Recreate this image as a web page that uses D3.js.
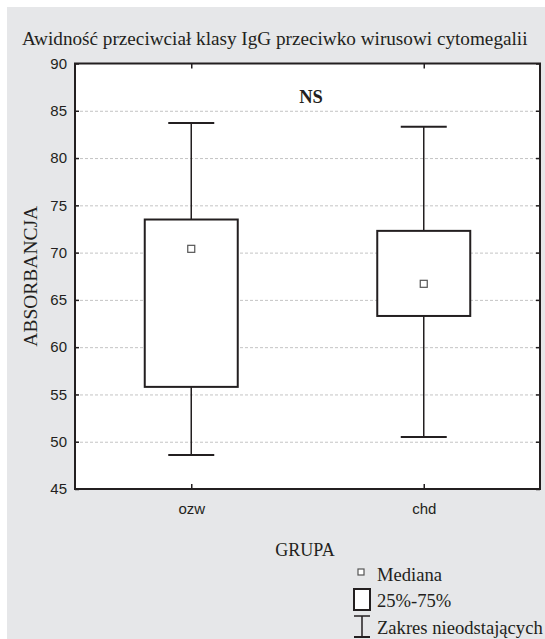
<!DOCTYPE html>
<html>
<head>
<meta charset="utf-8">
<script src="https://cdn.jsdelivr.net/npm/d3@7"></script>
<style>
  body { margin: 0; background: #fff; }
  #chart { width: 545px; height: 639px; }
  .serif { font-family: "Liberation Serif", "Times New Roman", serif; fill: #231f20; }
  .sans { font-family: "Liberation Sans", Arial, sans-serif; fill: #231f20; }
</style>
</head>
<body>
<div id="chart"></div>
<script>
// Data
var groups = ["ozw", "chd"];
var whiskerMax = [83.7, 83.3];
var q3 = [73.5, 72.3];
var medians = [70.4, 66.7];
var q1 = [55.8, 63.3];
var whiskerMin = [48.6, 50.5];
var yTicks = [45, 50, 55, 60, 65, 70, 75, 80, 85, 90];

var width = 545, height = 639;
var ink = "#231f20";

var svg = d3.select("#chart")
    .append("svg")
    .attr("width", width)
    .attr("height", height);

// page background (white strip on top/left, gray panel)
svg.append("rect").attr("x", 0).attr("y", 0).attr("width", width).attr("height", height).attr("fill", "#fff");
svg.append("rect").attr("x", 7).attr("y", 7).attr("width", width - 7).attr("height", height - 7).attr("fill", "#e6e7e9");

// plot box
var plot = { left: 75, right: 540, top: 63.5, bottom: 489 };

var y = d3.scaleLinear().domain([45, 90]).range([plot.bottom, plot.top]);
var x = d3.scalePoint().domain(groups).range([plot.left, plot.right]).padding(0.5);

svg.append("rect")
    .attr("x", plot.left).attr("y", plot.top)
    .attr("width", plot.right - plot.left).attr("height", plot.bottom - plot.top)
    .attr("fill", "#fff");

// Gridlines
svg.append("g")
    .attr("transform", "translate(" + plot.left + ",0)")
    .call(d3.axisLeft(y).tickValues(yTicks.slice(1, -1)).tickSize(-(plot.right - plot.left)).tickFormat(""))
    .call(function(g) {
        g.select(".domain").remove();
        g.selectAll("line").attr("stroke", "#c4c4c4").attr("stroke-dasharray", "3,2");
    });

// Y axis left with ticks inside
svg.append("g")
    .attr("transform", "translate(" + plot.left + ",0)")
    .call(d3.axisLeft(y).tickValues(yTicks).tickSizeInner(-4).tickSizeOuter(0).tickPadding(8))
    .call(function(g) {
        g.select(".domain").remove();
        g.selectAll("line").attr("stroke", ink).attr("stroke-width", 1.5);
        g.selectAll("text").attr("class", "sans").style("font-size", "15px").attr("font-family", null);
    });

// Y axis right ticks inside
svg.append("g")
    .attr("transform", "translate(" + plot.right + ",0)")
    .call(d3.axisRight(y).tickValues(yTicks).tickSizeInner(-4).tickSizeOuter(0).tickFormat(""))
    .call(function(g) {
        g.select(".domain").remove();
        g.selectAll("line").attr("stroke", ink).attr("stroke-width", 1.5);
    });

// X axis bottom
svg.append("g")
    .attr("transform", "translate(0," + plot.bottom + ")")
    .call(d3.axisBottom(x).tickSizeInner(-5).tickSizeOuter(0).tickPadding(14))
    .call(function(g) {
        g.select(".domain").remove();
        g.selectAll("line").attr("stroke", ink).attr("stroke-width", 1.5);
        g.selectAll("text").attr("class", "sans").style("font-size", "15px").attr("font-family", null);
    });

// X axis top
svg.append("g")
    .attr("transform", "translate(0," + plot.top + ")")
    .call(d3.axisTop(x).tickSizeInner(-5).tickSizeOuter(0).tickFormat(""))
    .call(function(g) {
        g.select(".domain").remove();
        g.selectAll("line").attr("stroke", ink).attr("stroke-width", 1.5);
    });

// Frame
svg.append("rect")
    .attr("x", plot.left).attr("y", plot.top)
    .attr("width", plot.right - plot.left).attr("height", plot.bottom - plot.top)
    .attr("fill", "none").attr("stroke", ink).attr("stroke-width", 2);

// Boxes
var boxW = 93, capW = 46;
var boxes = svg.append("g").selectAll("g")
    .data(groups)
    .enter().append("g");

boxes.append("line")
    .attr("x1", function(d) { return x(d); })
    .attr("x2", function(d) { return x(d); })
    .attr("y1", function(d, i) { return y(whiskerMax[i]); })
    .attr("y2", function(d, i) { return y(whiskerMin[i]); })
    .attr("stroke", ink).attr("stroke-width", 1.5);

boxes.append("line")
    .attr("x1", function(d) { return x(d) - capW / 2; })
    .attr("x2", function(d) { return x(d) + capW / 2; })
    .attr("y1", function(d, i) { return y(whiskerMax[i]); })
    .attr("y2", function(d, i) { return y(whiskerMax[i]); })
    .attr("stroke", ink).attr("stroke-width", 2);

boxes.append("line")
    .attr("x1", function(d) { return x(d) - capW / 2; })
    .attr("x2", function(d) { return x(d) + capW / 2; })
    .attr("y1", function(d, i) { return y(whiskerMin[i]); })
    .attr("y2", function(d, i) { return y(whiskerMin[i]); })
    .attr("stroke", ink).attr("stroke-width", 2);

boxes.append("rect")
    .attr("x", function(d) { return x(d) - boxW / 2; })
    .attr("y", function(d, i) { return y(q3[i]); })
    .attr("width", boxW)
    .attr("height", function(d, i) { return y(q1[i]) - y(q3[i]); })
    .attr("fill", "#fff").attr("stroke", ink).attr("stroke-width", 2);

boxes.append("rect")
    .attr("x", function(d) { return x(d) - 3.5; })
    .attr("y", function(d, i) { return y(medians[i]) - 3.5; })
    .attr("width", 7).attr("height", 7)
    .attr("fill", "#fff").attr("stroke", "#555").attr("stroke-width", 1.2);

// Texts
svg.append("text").attr("class", "serif")
    .attr("x", 22).attr("y", 45)
    .style("font-size", "19.2px")
    .text("Awidność przeciwciał klasy IgG przeciwko wirusowi cytomegalii");

svg.append("text").attr("class", "serif")
    .attr("x", 311).attr("y", 103)
    .attr("text-anchor", "middle")
    .style("font-size", "18.5px").style("font-weight", "bold")
    .text("NS");

svg.append("text").attr("class", "serif")
    .attr("transform", "translate(37," + ((plot.top + plot.bottom) / 2) + ") rotate(-90)")
    .attr("text-anchor", "middle")
    .style("font-size", "19.5px")
    .text("ABSORBANCJA");

svg.append("text").attr("class", "serif")
    .attr("x", 305).attr("y", 556)
    .attr("text-anchor", "middle")
    .style("font-size", "18px")
    .text("GRUPA");

// Legend
var legend = svg.append("g");
legend.append("rect")
    .attr("x", 358).attr("y", 569).attr("width", 6).attr("height", 6)
    .attr("fill", "#fff").attr("stroke", "#555").attr("stroke-width", 1.2);
legend.append("text").attr("class", "serif")
    .attr("x", 377).attr("y", 581).style("font-size", "18.6px").text("Mediana");

legend.append("rect")
    .attr("x", 354).attr("y", 589).attr("width", 16).attr("height", 21)
    .attr("fill", "#fff").attr("stroke", ink).attr("stroke-width", 2);
legend.append("text").attr("class", "serif")
    .attr("x", 377).attr("y", 607).style("font-size", "18.6px").text("25%-75%");

legend.append("line").attr("x1", 354).attr("x2", 370).attr("y1", 616).attr("y2", 616)
    .attr("stroke", ink).attr("stroke-width", 1.5);
legend.append("line").attr("x1", 362).attr("x2", 362).attr("y1", 616).attr("y2", 637)
    .attr("stroke", ink).attr("stroke-width", 1.5);
legend.append("line").attr("x1", 354).attr("x2", 370).attr("y1", 637).attr("y2", 637)
    .attr("stroke", ink).attr("stroke-width", 2);
legend.append("text").attr("class", "serif")
    .attr("x", 377).attr("y", 634).style("font-size", "18.6px").text("Zakres nieodstających");
</script>
</body>
</html>
